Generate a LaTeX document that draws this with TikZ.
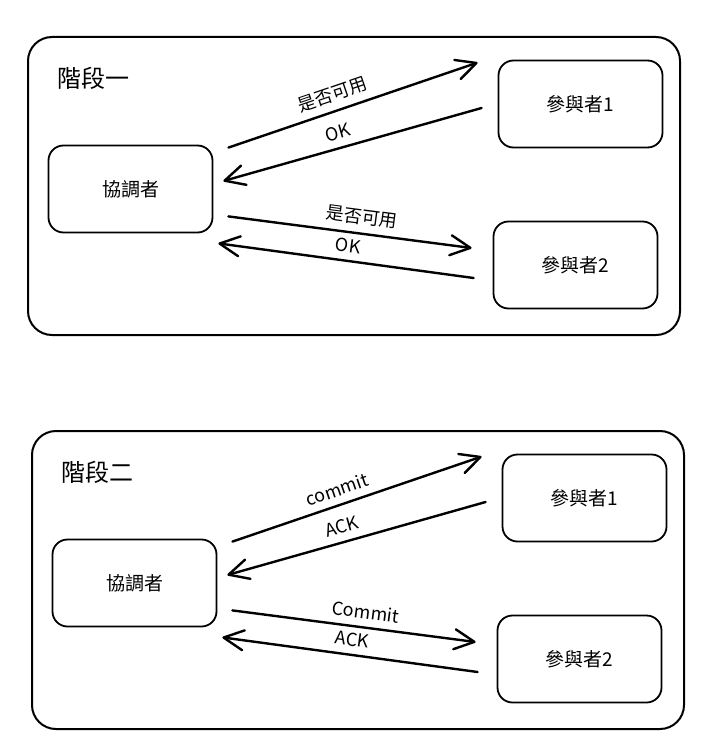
\documentclass[tikz,border=0pt]{standalone}
\usepackage{fontspec}
\newfontfamily\cjk{Noto Sans CJK TC}
\usetikzlibrary{arrows.meta}

\tikzset{
	panel/.style={draw, line width=2pt, rounded corners=24pt, minimum width=652pt, minimum height=298pt},
	party/.style={draw, line width=1.8pt, rounded corners=15pt, minimum width=164pt, minimum height=87pt, font=\cjk\fontsize{19}{22}\selectfont},
	msg/.style={line width=2.4pt, line cap=round, -{Straight Barb[length=20pt,width=20pt,round]}},
	msglabel/.style={sloped, above=4pt, font=\cjk\fontsize{18}{21}\selectfont}
}

\newcommand{\phasepanel}[7]{
	\begin{scope}[shift={#2}]
		\node[panel] (#1frame) at (354,186) {};
		\node[anchor=west, font=\cjk\fontsize{24}{28}\selectfont] (#1title) at (54,78) {#3};
		\node[party] (#1coord) at (130.5,189) {協調者};
		\node[party] (#1pa) at (580.5,104) {參與者1};
		\node[party] (#1pb) at (575.5,265) {參與者2};
		\draw[msg] ([shift={(15,3)}]#1coord.north east) -- node[msglabel, pos=0.44] {#4} ([shift={(-20,3)}]#1pa.north west);
		\draw[msg] ([shift={(-16,4)}]#1pa.west) -- node[msglabel, pos=0.54] {#5} ([shift={(10,-8)}]#1coord.east);
		\draw[msg] ([shift={(15,-17)}]#1coord.south east) -- node[msglabel, pos=0.54] {#6} ([shift={(-21,-17)}]#1pb.west);
		\draw[msg] ([shift={(-19,13)}]#1pb.west) -- node[msglabel, pos=0.5] {#7} ([shift={(5,10)}]#1coord.south east);
	\end{scope}
}

\begin{document}
\begin{tikzpicture}[x=1pt,y=-1pt,font=\cjk]
	\useasboundingbox (0,0) rectangle (708,752);
	\phasepanel{a}{(0,0)}{階段一}{是否可用}{OK}{是否可用}{OK}
	\phasepanel{b}{(4,394)}{階段二}{commit}{ACK}{Commit}{ACK}
\end{tikzpicture}
\end{document}
